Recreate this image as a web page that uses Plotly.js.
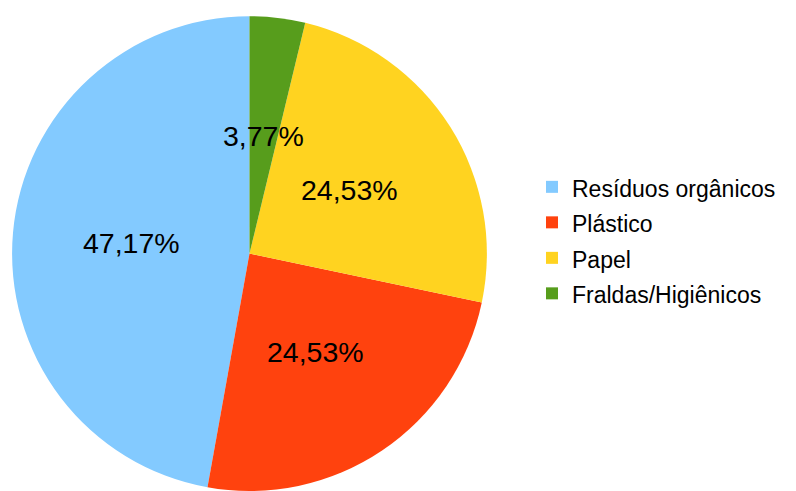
<!DOCTYPE html>
<html>
<head>
<meta charset="utf-8">
<script src="https://cdn.plot.ly/plotly-3.0.1.min.js"></script>
<style>html,body{margin:0;padding:0;background:#fff;}#chart{width:796px;height:491px;}</style>
</head>
<body>
<div id="chart"></div>
<script>
const categories = ["Resíduos orgânicos", "Plástico", "Papel", "Fraldas/Higiênicos"];
const counts = [25, 13, 13, 2];
const colors = ["#83caff", "#ff420e", "#ffd320", "#579d1c"];

const W = 796, H = 491;
const domX = [0.01445, 0.6124];
const domY = [0, 0.967];

const total = counts.reduce((a, b) => a + b, 0);
const pctText = counts.map(v => (v / total * 100).toFixed(2).replace('.', ',') + '%');

// pie geometry in pixels (margins are zero)
const R = Math.min((domX[1] - domX[0]) * W, (domY[1] - domY[0]) * H) / 2;
const cx = (domX[0] + domX[1]) / 2;
const cy = (domY[0] + domY[1]) / 2;

// slices run counterclockwise starting at 12 o'clock
let cum = 0;
const annotations = counts.map((v, i) => {
  const mid = (cum + v / 2) / total;
  cum += v;
  const theta = -mid * 2 * Math.PI; // counterclockwise
  const rr = 0.5 * R;
  return {
    xref: 'paper', yref: 'paper',
    x: cx + rr * Math.sin(theta) / W,
    y: cy + rr * Math.cos(theta) / H,
    xanchor: 'center', yanchor: 'middle',
    text: pctText[i], showarrow: false,
    font: {family: 'Liberation Sans, Arial, sans-serif', size: 28.5, color: '#000'}
  };
});

const trace = {
  type: 'pie',
  labels: categories.map(c => '<span style="font-size:23px">' + c + '</span>'),
  values: counts,
  sort: false,
  direction: 'counterclockwise',
  // in counterclockwise mode Plotly ends the first slice at the rotation angle;
  // shift so the first slice starts at 12 o'clock
  rotation: -counts[0] / total * 360,
  textinfo: 'none',
  hoverinfo: 'label+percent',
  marker: {colors: colors, line: {width: 0}},
  domain: {x: domX, y: domY}
};

const layout = {
  width: W, height: H,
  margin: {l: 0, r: 0, t: 0, b: 0},
  paper_bgcolor: '#fff',
  showlegend: true,
  legend: {
    x: 532 / W, xanchor: 'left',
    y: 0.511, yanchor: 'middle',
    font: {family: 'Liberation Sans, Arial, sans-serif', size: 25, color: '#000'},
    itemwidth: 30,
    bgcolor: 'rgba(0,0,0,0)'
  },
  annotations: annotations
};

Plotly.newPlot('chart', [trace], layout, {displayModeBar: false, staticPlot: true});
</script>
</body>
</html>
